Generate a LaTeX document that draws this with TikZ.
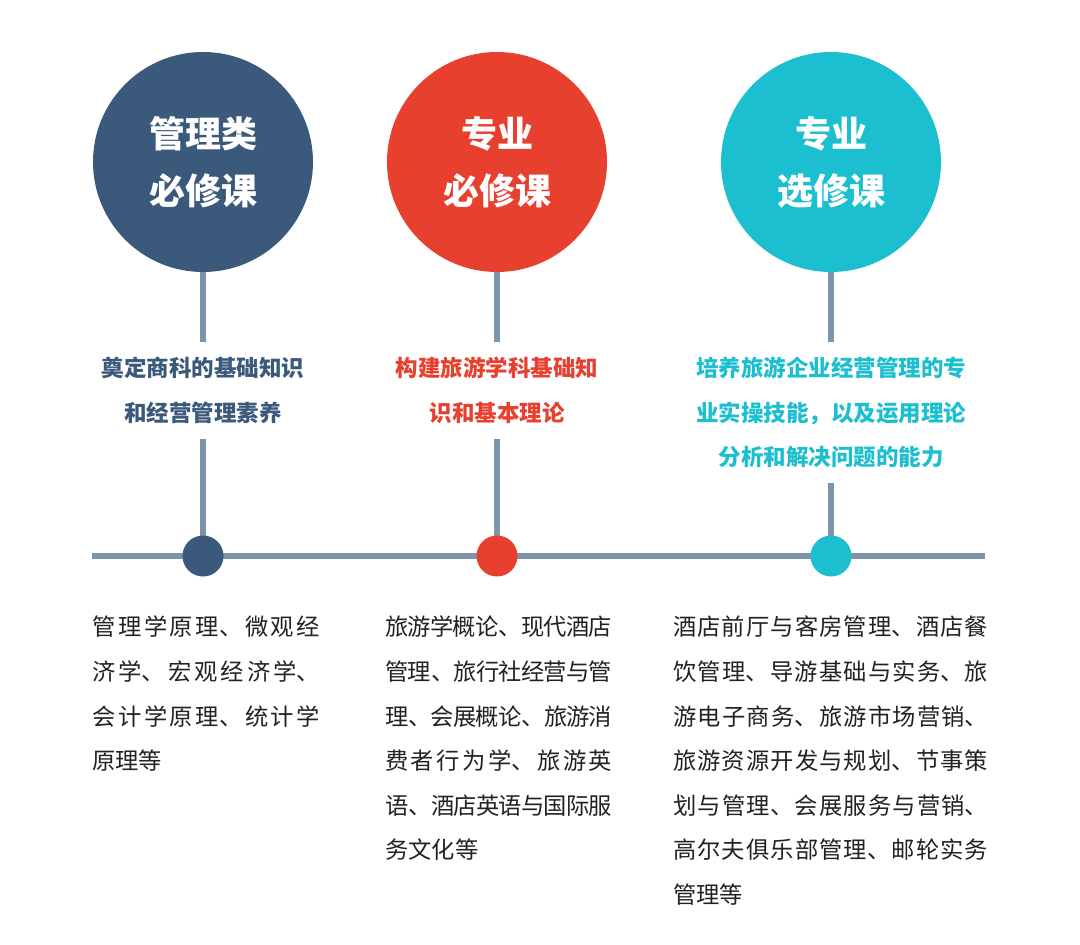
\documentclass[tikz,border=0pt]{standalone}
\usepackage{fontspec}
\setmainfont{Noto Sans CJK SC}
\XeTeXlinebreaklocale "zh"
\XeTeXlinebreakskip=0pt plus 4pt minus 1.5pt
\definecolor{navy}{HTML}{3B5A7B}
\definecolor{redc}{HTML}{E8402F}
\definecolor{cyanc}{HTML}{1CBFCF}
\definecolor{linec}{HTML}{7D94AD}
\definecolor{textc}{HTML}{222222}
\pgfdeclarelayer{background}
\pgfsetlayers{background,main}
\tikzset{
  bigcirc/.style={circle, minimum size=220pt, inner sep=0pt, text=white, align=center,
    font=\bfseries\fontsize{36}{57}\selectfont},
  lbl/.style={anchor=north, inner xsep=0pt, inner ysep=15pt, align=center,
    font=\bfseries\fontsize{22.5}{44.5}\selectfont},
  dotc/.style={circle, minimum size=41pt, inner sep=0pt},
  conn/.style={draw=linec, line width=6pt},
  body/.style={anchor=north west, inner sep=0pt, align=justify, text=textc,
    font=\fontsize{23.3}{44.6}\selectfont}
}
\begin{document}
\begin{tikzpicture}[x=1pt,y=-1pt]
\path[use as bounding box] (0,0) rectangle (1080,945);
% circles
\node[bigcirc, fill=navy] (c1) at (203,162) {管理类\\必修课};
\node[bigcirc, fill=redc] (c2) at (497,162) {专业\\必修课};
\node[bigcirc, fill=cyanc] (c3) at (831,162) {专业\\选修课};
% labels
\node[lbl, text=navy] (l1) at (203,342) {奠定商科的基础知识\\和经营管理素养};
\node[lbl, text=redc] (l2) at (497,342) {构建旅游学科基础知\\识和基本理论};
\node[lbl, text=cyanc] (l3) at (831,342) {培养旅游企业经营管理的专\\业实操技能，以及运用理论\\分析和解决问题的能力};
% dots
\node[dotc, fill=navy] (d1) at (203,556) {};
\node[dotc, fill=redc] (d2) at (497,556) {};
\node[dotc, fill=cyanc] (d3) at (831,556) {};
\coordinate (hl) at (92,556);
\coordinate (hr) at (985,556);
\begin{pgfonlayer}{background}
\fill[white] (0,0) rectangle (1080,945);
\draw[conn] (hl) -- (hr);
\draw[conn] (c1.south) -- (l1.north);
\draw[conn] (l1.south) -- (d1.center);
\draw[conn] (c2.south) -- (l2.north);
\draw[conn] (l2.south) -- (d2.center);
\draw[conn] (c3.south) -- (l3.north);
\draw[conn] (l3.south) -- (d3.center);
\end{pgfonlayer}
% body texts
\node[body, text width=228pt] (b1) at (92,616) {管理学原理、微观经\linebreak 济学、宏观经济学、\linebreak 会计学原理、统计学\linebreak 原理等};
\node[body, text width=227pt] (b2) at (385,616) {旅游学概论、现代酒店\linebreak 管理、旅行社经营与管\linebreak 理、会展概论、旅游消\linebreak 费者行为学、旅游英\linebreak 语、酒店英语与国际服\linebreak 务文化等};
\node[body, text width=315pt] (b3) at (673,616) {酒店前厅与客房管理、酒店餐\linebreak 饮管理、导游基础与实务、旅\linebreak 游电子商务、旅游市场营销、\linebreak 旅游资源开发与规划、节事策\linebreak 划与管理、会展服务与营销、\linebreak 高尔夫俱乐部管理、邮轮实务\linebreak 管理等};
\end{tikzpicture}
\end{document}
